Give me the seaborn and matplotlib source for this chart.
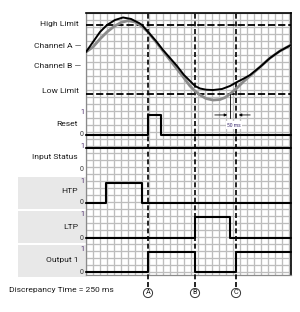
import matplotlib
matplotlib.use("Agg")
import matplotlib.pyplot as plt
from matplotlib.patches import Rectangle
import numpy as np
import seaborn as sns

# time axis in ms, analog values in % of range
t_a = [0, 35, 70, 105, 145, 185, 225, 265, 280, 310, 350, 385, 420, 455, 490, 520, 545,
       570, 600, 635, 680, 720, 755, 785, 820, 870, 920, 970, 1025]
chan_a = [58.7, 70.3, 81.9, 90.0, 95.8, 98.7, 97.0, 92.3, 90.0, 82.0, 71.4, 61.0, 51.7,
          42.5, 32.0, 25.1, 19.3, 16.4, 15.0, 14.6, 15.8, 19.3, 23.9, 27.4, 32.0, 41.3,
          51.7, 59.9, 66.8]
t_b = [0, 35, 70, 105, 140, 175, 210, 245, 280, 310, 350, 385, 420, 455, 490, 520, 545,
       570, 600, 635, 670, 695, 720, 755, 785, 820, 870, 920, 970, 1025]
chan_b = [58.7, 64.5, 73.8, 81.9, 88.3, 92.9, 95.0, 93.5, 88.3, 81.9, 70.3, 59.9, 49.4,
          39.0, 28.6, 19.3, 13.5, 8.8, 4.8, 3.0, 3.6, 5.9, 10.0, 17.0, 23.9, 30.9, 41.3,
          51.7, 59.9, 66.8]
high_limit = 90
low_limit = 10

event_labels = ["A", "B", "C"]
event_times = [310, 545, 750]
crossing_t = 720

row_names = ["Reset", "Input Status", "HTP", "LTP", "Output 1"]
shaded_rows = ["HTP", "LTP", "Output 1"]
reset_t = [0, 310, 375, 1025]
reset_v = [0, 1, 0, 0]
input_t = [0, 1025]
input_v = [1, 1]
htp_t = [0, 100, 280, 1025]
htp_v = [0, 1, 0, 0]
ltp_t = [0, 545, 720, 1025]
ltp_v = [0, 1, 0, 0]
out_t = [0, 310, 545, 750, 1025]
out_v = [0, 1, 0, 1, 1]
digital = [(reset_t, reset_v), (input_t, input_v), (htp_t, htp_v), (ltp_t, ltp_v), (out_t, out_v)]

sns.set_theme(style="white")
plt.rcParams["font.family"] = ["Roboto", "DejaVu Sans"]

W, H = 300, 312
fig = plt.figure(figsize=(W / 100, H / 100), dpi=100)
fig.patch.set_facecolor("white")


def fy(px):
    return 1 - px / H


TMAX = 1025
TXT = "#1e1e1e"
FS = 6.1

# row label shading
row_box = {"HTP": (177, 209), "LTP": (210.5, 243), "Output 1": (244.5, 277)}
for name in shaded_rows:
    top, bot = row_box[name]
    fig.add_artist(Rectangle((18 / W, fy(bot)), 68 / W, (bot - top) / H,
                             transform=fig.transFigure, color="#e8e8e8", lw=0, zorder=0))

# background grid
ax_g = fig.add_axes([86 / W, fy(275), 205 / W, 262 / H])
ncell = 262 / 7
ax_g.set_xlim(0, TMAX)
ax_g.set_ylim(ncell, 0)
ax_g.set_xticks(np.arange(0, TMAX + 1, 35))
ax_g.set_yticks(np.arange(0, ncell, 1))
ax_g.grid(True, color="#bdbdbd", lw=0.95)
ax_g.tick_params(length=0, labelbottom=False, labelleft=False)
for side in ["top", "right"]:
    ax_g.spines[side].set_color("black")
    ax_g.spines[side].set_linewidth(1.2)
for side in ["left", "bottom"]:
    ax_g.spines[side].set_color("#8a8a8a")
    ax_g.spines[side].set_linewidth(0.9)

for lab, t in zip(event_labels, event_times):
    ax_g.axvline(t, ymin=-12 / 262, ymax=1, clip_on=False, color="black", lw=1.2,
                 ls=(0, (3, 1.6)), zorder=5)
    ax_g.text(t, ncell + 18 / 7, lab, ha="center", va="center", fontsize=5.2, color=TXT,
              bbox=dict(boxstyle="circle,pad=0.15", fc="white", ec="#333333", lw=0.7),
              clip_on=False)

# analog channels
ax_an = fig.add_axes([86 / W, fy(105), 205 / W, 92 / H])
ax_an.set_xlim(0, TMAX)
ax_an.set_ylim(-2.75, 103.9)
ax_an.axis("off")
ax_an.axhline(high_limit, color="black", lw=1.3, ls=(0, (4, 1.6)))
ax_an.axhline(low_limit, color="black", lw=1.3, ls=(0, (4, 1.6)))
sns.lineplot(x=t_b, y=chan_b, ax=ax_an, color="#8c8c8c", lw=2.0, estimator=None, sort=False)
sns.lineplot(x=t_a, y=chan_a, ax=ax_an, color="black", lw=1.4, estimator=None, sort=False)

# 50 ms marker
ax_an.plot([crossing_t, crossing_t], [low_limit, -17.8], color="black", lw=0.6, clip_on=False)
ax_an.annotate("", xy=(crossing_t, -14.3), xytext=(630, -14.3), annotation_clip=False,
               arrowprops=dict(arrowstyle="-|>", lw=0.6, color="black", mutation_scale=4))
ax_an.annotate("", xy=(event_times[2], -14.3), xytext=(835, -14.3), annotation_clip=False,
               arrowprops=dict(arrowstyle="-|>", lw=0.6, color="black", mutation_scale=4))
ax_an.text(740, -26, "50 ms", ha="center", va="center", fontsize=3.6, color="#3b2a6e",
           bbox=dict(boxstyle="square,pad=0.3", fc="white", ec="none"), clip_on=False)

# analog labels
fig.text(79 / W, fy(24), "High Limit", ha="right", va="center", fontsize=FS, color=TXT)
fig.text(81 / W, fy(45.5), "Channel A —", ha="right", va="center", fontsize=FS, color=TXT)
fig.text(81 / W, fy(66), "Channel B —", ha="right", va="center", fontsize=FS, color=TXT)
fig.text(79 / W, fy(91), "Low Limit", ha="right", va="center", fontsize=FS, color=TXT)

# digital rows
levels = [(115, 134.5), (148, 170), (183, 203), (217, 238), (251.5, 272)]
label_y = [124, 157, 191, 227, 260]
for name, (tt, vv), (p1, p0), ly in zip(row_names, digital, levels, label_y):
    ax = fig.add_axes([86 / W, fy(p0), 205 / W, (p0 - p1) / H])
    ax.set_xlim(0, TMAX)
    ax.set_ylim(0, 1)
    ax.axis("off")
    sns.lineplot(x=tt, y=vv, ax=ax, color="black", lw=1.5, estimator=None, sort=False,
                 drawstyle="steps-post", clip_on=False)
    fig.text(78 / W, fy(ly), name, ha="right", va="center", fontsize=FS, color=TXT)
    fig.text(82 / W, fy(p1 - 2), "1", ha="center", va="center", fontsize=5, color="#4a2a6a")
    fig.text(82 / W, fy(p0), "0", ha="center", va="center", fontsize=5, color="#333333")

fig.text(9 / W, fy(290), "Discrepancy Time = 250 ms", ha="left", va="center", fontsize=FS,
         color=TXT)

fig.savefig("out.png", dpi=100)
